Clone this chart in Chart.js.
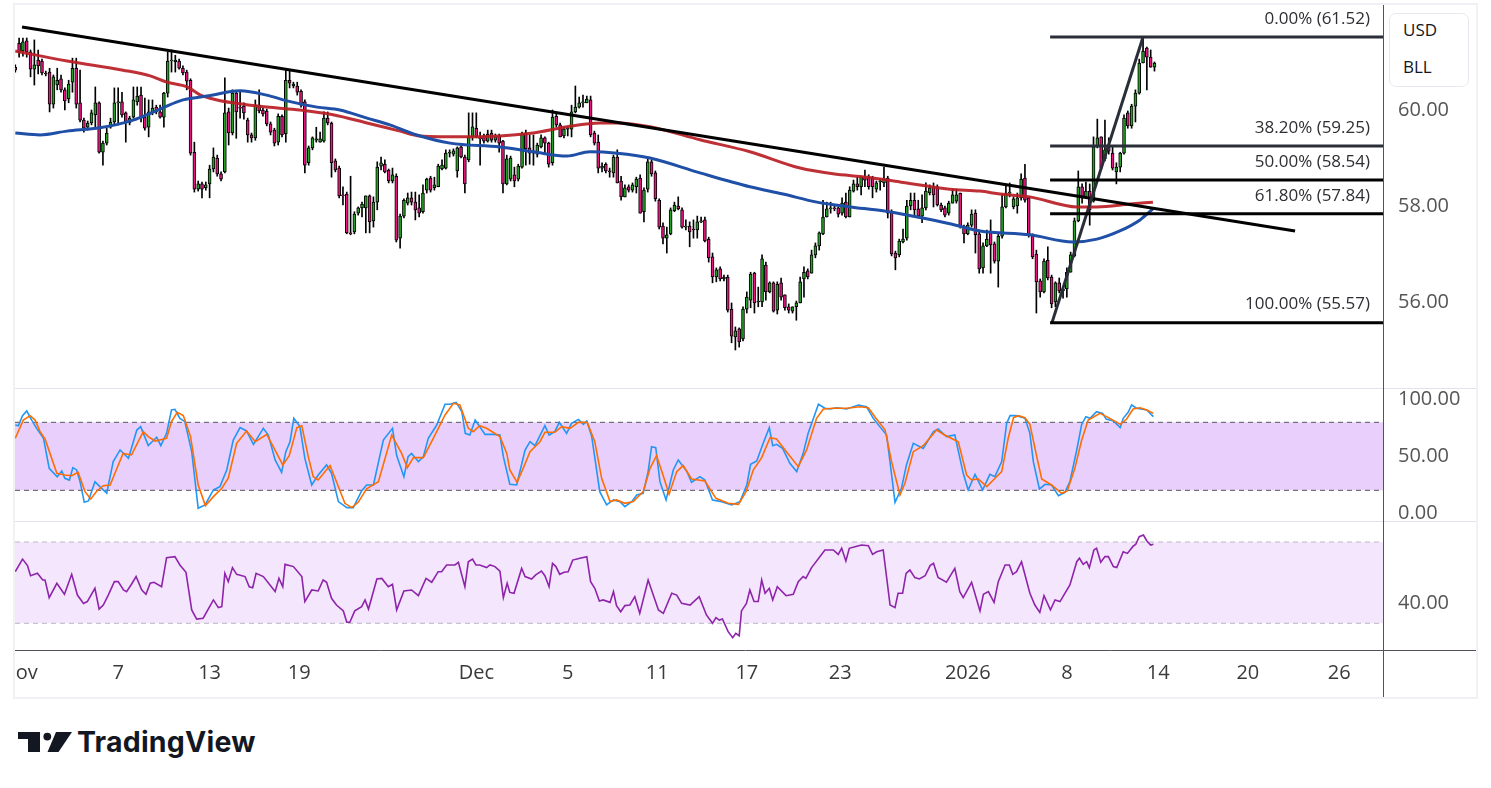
<!DOCTYPE html>
<html><head><meta charset="utf-8">
<script src="https://cdn.jsdelivr.net/npm/chart.js@4"></script>
<style>
html,body{margin:0;padding:0;background:#fff;width:1491px;height:788px;overflow:hidden;font-family:'Open Sans',sans-serif;}
#frame{position:absolute;left:13px;top:3px;width:1461px;height:692px;border:2px solid #f0f1f4;}
.pane{position:absolute;left:15px;width:1461px;}
#p1{top:5px;height:383px;}
#p2{top:388px;height:133px;}
#p3{top:521px;height:176px;}
#cur{position:absolute;left:1389px;top:13px;width:78px;height:72px;border:1px solid #e6e8ee;border-radius:7px;background:#fff;color:#131722;font-size:17px;}
#cur div{position:absolute;left:13px;line-height:20px;}
#logo{position:absolute;left:18px;top:731px;}
#logotext{position:absolute;left:77px;top:728px;font-family:Inter,sans-serif;font-weight:700;font-size:28.5px;line-height:28px;color:#131722;letter-spacing:0.2px;}
</style></head>
<body>
<div id="frame"></div>
<div class="pane" id="p1"><canvas id="c1"></canvas></div>
<div class="pane" id="p2"><canvas id="c2"></canvas></div>
<div class="pane" id="p3"><canvas id="c3"></canvas></div>
<div id="cur"><div style="top:6px">USD</div><div style="top:43px">BLL</div></div>
<svg id="logo" width="56" height="22" viewBox="0 0 56 22"><path d="M0 1h22v20h-12v-13h-10z" fill="#131722"/><circle cx="29.3" cy="5.6" r="3.9" fill="#131722"/><path d="M38 1h16l-13.5 20h-11z" fill="#131722"/></svg>
<div id="logotext">TradingView</div>
<script>
// ---------- DATA ----------
const candleOpen = [60.89,61.39,61.23,61.44,61.21,60.85,61.04,61.02,60.77,60.79,
60.12,60.52,60.65,60.42,60.23,60.58,60.87,60.15,59.79,59.64,
59.73,59.90,60.15,59.12,59.31,59.64,59.75,60.15,60.17,59.94,
59.73,59.85,60.17,60.31,59.85,59.64,59.96,60.06,59.96,59.85,
60.35,61.02,61.00,61.02,60.87,60.79,60.62,59.12,58.35,58.46,
58.38,58.46,58.77,59.00,58.67,58.71,59.96,59.52,60.35,60.06,
60.08,59.79,59.48,59.42,60.10,60.00,59.98,59.71,59.58,59.33,
59.87,59.50,60.62,60.50,60.50,60.39,
60.17,58.90,59.21,59.37,59.33,59.35,59.83,59.73,58.94,58.79,
58.23,58.25,57.44,57.46,57.85,57.96,57.96,58.21,57.69,58.08,
58.83,58.87,58.75,58.52,58.62,57.33,57.79,58.06,58.17,58.08,
57.96,57.88,58.33,58.58,58.38,58.40,58.77,58.79,59.10,59.08,
58.73,59.23,59.02,58.96,59.44,59.62,59.42,59.46,59.35,59.52,
59.37,59.46,59.35,58.46,58.56,58.65,58.56,58.81,59.52,59.21,
59.12,59.08,59.23,59.42,59.31,58.90,59.87,59.69,59.46,59.60,
59.60,59.96,60.06,60.15,
60.15,60.21,59.52,59.33,58.79,58.87,58.73,58.69,59.02,58.52,
58.19,58.40,58.33,58.40,58.58,57.88,58.35,58.92,58.69,58.12,
57.58,57.33,57.42,57.90,58.00,57.92,57.56,57.58,57.52,57.50,
57.67,57.71,57.31,56.94,56.52,56.69,56.48,56.52,55.85,55.27,
55.44,55.23,55.85,56.04,56.60,56.00,56.00,56.77,56.21,56.40,
55.83,56.40,56.15,55.90,55.81,55.90,55.98,56.48,56.65,56.60,
56.98,57.17,57.42,57.77,57.94,57.96,57.96,57.85,58.08,57.77,
58.31,58.46,58.40,58.60,
58.60,58.58,58.35,58.50,58.48,58.58,57.88,57.02,56.98,57.25,
57.33,58.00,58.12,57.94,57.79,57.96,58.27,58.40,58.40,58.02,
57.96,57.85,58.06,58.10,58.27,57.58,57.42,57.60,57.85,57.42,
56.71,57.17,57.46,57.21,56.85,57.37,57.98,58.27,57.98,58.00,
58.17,58.58,58.17,57.38,57.00,56.44,56.21,56.87,56.52,56.00,
56.40,56.23,56.27,56.62,56.96,57.69,58.40,58.19,58.31,58.10,
59.23,59.44,58.98,59.27,59.10,58.71,58.81,59.10,59.94,59.67,
60.08,60.35,60.98,61.29,61.10,60.89];
const candleHigh = [60.94,61.50,61.50,61.50,61.25,61.46,61.25,61.06,60.81,60.87,
60.73,60.87,60.73,60.46,60.62,61.08,61.08,60.83,59.83,59.77,
60.00,60.48,60.17,59.35,59.62,59.83,60.46,60.46,60.37,59.96,
59.87,60.48,60.48,60.48,60.25,60.21,60.21,60.10,60.10,60.37,
61.21,61.25,61.14,61.06,60.92,60.83,60.65,59.33,58.52,58.50,
58.50,58.85,59.21,59.06,58.71,60.67,60.04,60.42,60.37,60.37,
60.15,59.83,59.52,60.21,60.42,60.04,60.02,59.75,59.62,59.92,
59.90,60.83,60.83,60.58,60.58,60.42,
60.21,59.25,59.44,59.64,59.54,59.96,59.96,59.75,58.98,58.83,
58.40,58.29,58.62,57.88,57.98,58.08,58.21,58.23,58.19,58.92,
59.02,58.96,58.77,58.79,58.67,57.83,58.15,58.27,58.29,58.29,
58.23,58.44,58.58,58.62,58.60,58.87,58.96,59.17,59.17,59.19,
59.23,59.25,59.06,59.94,59.94,59.94,59.54,59.50,59.58,59.58,
59.50,59.50,59.37,59.06,59.04,58.81,58.87,59.54,59.58,59.48,
59.48,59.31,59.48,59.44,59.33,60.00,59.92,59.73,59.65,59.65,
60.10,60.50,60.27,60.31,
60.29,60.29,59.56,59.48,58.90,58.90,58.79,59.06,59.17,58.62,
58.44,58.44,58.48,58.60,58.65,58.38,59.02,58.96,58.73,58.15,
57.65,57.56,57.96,58.08,58.19,57.96,57.71,57.67,57.71,57.79,
57.77,57.77,57.35,57.02,56.71,56.73,56.56,56.56,55.98,55.48,
55.46,55.90,56.21,56.62,56.62,56.31,56.98,56.83,56.42,56.42,
56.42,56.50,56.15,55.96,55.90,56.02,56.52,56.73,56.69,57.08,
57.23,57.46,58.12,58.08,58.08,58.00,57.98,58.17,58.27,58.40,
58.54,58.60,58.60,58.75,
58.65,58.62,58.52,58.56,58.81,58.62,57.92,57.06,57.31,57.52,
58.12,58.27,58.27,58.12,58.23,58.48,58.44,58.48,58.44,58.06,
58.00,58.10,58.35,58.35,58.27,57.60,57.65,57.92,57.92,57.50,
57.23,57.50,57.71,57.25,57.42,58.23,58.46,58.48,58.19,58.27,
58.67,58.87,58.19,57.42,57.08,56.48,56.90,57.15,56.56,56.42,
56.50,56.31,56.71,57.04,57.75,58.73,58.46,58.50,58.46,59.44,
59.81,59.44,59.79,59.42,59.23,58.90,59.12,59.90,59.98,60.12,
60.42,61.06,61.52,61.31,61.25,61.00];
const candleLow = [60.79,61.10,61.12,61.10,60.69,60.52,60.75,60.73,60.71,59.96,
60.04,60.42,60.37,60.00,60.15,60.37,60.04,59.75,59.54,59.58,
59.69,59.62,59.10,58.85,59.27,59.62,59.69,59.69,59.85,59.33,
59.69,59.83,60.10,59.75,59.58,59.44,59.90,59.92,59.83,59.64,
60.27,60.79,60.79,60.85,60.73,60.42,59.06,58.29,58.31,58.17,
58.33,58.17,58.71,58.62,58.52,58.69,59.27,59.48,59.41,59.83,
59.81,59.33,59.33,59.37,59.94,59.87,59.67,59.48,59.25,59.27,
59.44,59.33,60.46,60.46,60.31,60.06,
58.69,58.85,59.17,59.33,59.33,59.33,59.69,58.60,58.71,58.17,
58.02,57.42,57.40,57.42,57.81,57.77,57.44,57.44,57.56,57.92,
58.75,58.69,58.48,58.48,57.25,57.12,57.75,58.02,58.02,57.71,
57.77,57.85,58.27,58.29,58.33,58.40,58.75,58.77,59.02,59.04,
58.60,59.00,58.27,58.92,59.37,59.42,58.85,59.31,59.33,59.33,
59.33,59.12,58.27,58.44,58.52,58.40,58.52,58.79,58.85,58.87,
58.85,59.02,59.21,59.10,58.81,58.85,59.65,59.44,59.42,59.46,
59.44,59.94,60.04,60.06,
60.15,59.44,59.27,58.69,58.71,58.69,58.60,58.60,58.48,58.12,
58.19,58.29,58.29,58.27,57.85,57.67,58.29,58.62,58.10,57.52,
57.21,57.02,57.40,57.88,57.92,57.54,57.50,57.15,57.33,57.33,
57.65,57.25,56.83,56.40,56.42,56.44,56.44,55.79,55.15,55.00,
55.06,55.19,55.77,55.88,55.77,55.90,55.90,56.04,56.19,55.79,
55.75,56.04,55.83,55.77,55.77,55.62,55.98,56.10,56.48,56.60,
56.92,57.08,57.40,57.77,57.85,57.90,57.77,57.81,57.75,57.77,
58.29,58.33,58.23,58.40,
58.35,58.17,58.29,58.33,58.40,57.75,56.96,56.67,56.94,57.23,
57.29,57.92,57.77,57.77,57.65,57.92,58.23,57.98,58.00,57.88,
57.77,57.81,58.06,58.06,57.54,57.23,57.40,57.56,57.02,56.60,
56.60,57.15,56.60,56.81,56.31,57.33,57.96,58.19,57.94,57.85,
58.12,58.08,57.35,56.90,55.77,56.10,56.19,56.46,55.88,55.90,
56.19,56.08,56.10,56.62,56.94,57.67,58.06,58.17,57.60,58.08,
59.21,58.75,58.94,59.08,58.75,58.46,58.71,59.08,59.62,59.62,
59.75,60.33,60.98,60.42,60.89,60.81];
const candleClose = [60.83,61.21,61.42,61.21,60.85,60.94,60.92,60.77,60.75,60.12,
60.69,60.62,60.42,60.19,60.54,60.87,60.12,59.79,59.62,59.73,
59.94,60.15,59.12,59.31,59.52,59.75,60.15,60.17,59.90,59.75,
59.83,60.21,60.29,59.83,59.62,59.96,60.04,59.96,59.85,60.35,
61.02,61.04,61.04,60.87,60.77,60.60,59.10,58.35,58.46,58.35,
58.44,58.77,59.02,58.67,58.56,59.94,59.52,60.35,59.96,60.04,
59.94,59.48,59.42,60.10,59.98,59.92,59.71,59.54,59.31,59.87,
59.48,60.62,60.56,60.54,60.37,60.10,
58.85,59.21,59.42,59.40,59.40,59.83,59.73,58.90,58.75,58.21,
58.21,57.44,57.42,57.83,57.96,58.04,58.21,57.67,58.08,58.81,
58.90,58.71,58.52,58.65,57.29,57.79,58.12,58.17,58.08,57.92,
57.85,58.27,58.56,58.33,58.44,58.83,58.85,59.10,59.12,59.15,
59.21,59.02,58.46,59.44,59.65,59.44,59.40,59.35,59.50,59.37,
59.46,59.31,58.46,58.98,59.00,58.52,58.83,59.50,59.19,59.10,
59.10,59.27,59.42,59.31,58.87,59.85,59.69,59.44,59.60,59.62,
59.96,60.06,60.15,60.17,
60.23,59.48,59.31,58.79,58.83,58.73,58.71,59.02,58.48,58.19,
58.38,58.33,58.44,58.56,57.85,58.33,58.92,58.67,58.15,57.56,
57.33,57.40,57.92,58.02,57.94,57.56,57.58,57.46,57.50,57.67,
57.69,57.27,56.92,56.52,56.67,56.48,56.52,55.83,55.29,55.40,
55.17,55.85,56.10,56.58,55.98,56.02,56.90,56.21,56.40,55.81,
56.37,56.10,55.88,55.83,55.90,55.98,56.42,56.62,56.52,56.98,
57.17,57.44,57.77,57.94,57.96,57.94,57.83,58.06,57.77,58.33,
58.46,58.40,58.60,58.54,
58.40,58.40,58.48,58.52,58.56,57.85,57.00,56.92,57.27,57.31,
58.00,58.12,57.92,57.79,57.96,58.31,58.38,58.23,58.02,57.92,
57.81,58.06,58.23,58.23,57.58,57.42,57.60,57.83,57.40,56.69,
57.17,57.31,57.19,56.85,57.37,57.98,58.27,58.29,58.15,58.17,
58.56,58.12,57.38,56.94,56.42,56.21,56.85,56.50,55.96,56.40,
56.23,56.27,56.62,56.98,57.69,58.40,58.17,58.31,57.92,59.23,
59.42,58.79,59.17,59.14,58.79,58.81,59.10,59.83,59.67,60.08,
60.35,60.98,61.23,61.10,60.89,60.98];

const maRed = [[0,61.23],[13.6,61.02],[28.3,60.83],[35.4,60.71],[39.8,60.58],[45.1,60.48],[48.6,60.31],[53,60.21],[57.1,60.15],[66,60.06],[74.7,60.00],[83.4,59.90],[92.3,59.73],[101,59.56],[106.2,59.46],[118.6,59.44],[127.2,59.46],[135.9,59.52],[144.8,59.65],[153.5,59.73],[158,59.73],[166.6,59.65],[179.7,59.38],[192.8,59.13],[206,58.79],[214.6,58.67],[223.5,58.60],[232.2,58.50],[245.3,58.35],[253.2,58.31],[258.5,58.25],[266.3,58.19],[278.7,57.98],[283.9,57.98],[292.6,58.04],[298.6,58.08]];
const maBlue = [[0,59.52],[6.5,59.48],[13.6,59.56],[22.2,59.63],[30.9,59.79],[38,60.02],[44,60.21],[50.3,60.29],[59,60.40],[66,60.31],[71.3,60.19],[79.2,60.06],[85.2,60.00],[92.3,59.83],[98.3,59.69],[105.4,59.48],[114.1,59.31],[127.2,59.23],[135.9,59.13],[144.8,59.04],[150.8,59.13],[158,59.10],[166.6,59.00],[179.7,58.69],[192.8,58.40],[201.5,58.25],[210.4,58.08],[219.1,57.98],[227.7,57.90],[236.7,57.77],[245.3,57.63],[253.2,57.48],[266.3,57.40],[277.6,57.25],[283.9,57.31],[289.9,57.48],[295.2,57.71],[298.6,57.94]];
const trendLine = [[1.76,61.73],[335.9,57.48]];
const fibLevels = [61.52,59.25,58.54,57.84,55.57];
const fibNames = ['0.00%','38.20%','50.00%','61.80%','100.00%'];
const fibStartIdx = 271.6;
const fibSwing = [[272.1,55.57],[296,61.52]];

const stochK = [[0,77.6],[0.8,77],[1.9,85.9],[3,90],[4.3,82],[5.6,74.7],[7.4,65.9],[8.9,39.4],[11,32],[12.2,37],[13,30.6],[14.2,29],[15.1,40],[16.1,38],[17,27.6],[18.1,9.4],[19.2,10.6],[20.9,27.6],[22.2,23.2],[24,17.4],[25.7,45.3],[27.5,55.6],[29.7,48.2],[31.9,73.2],[32.9,76.2],[34.9,59.4],[37.1,66.8],[38.2,59.4],[39.7,70.3],[41,90.9],[41.9,91.5],[43.2,83.5],[44.5,80.6],[46.3,54.1],[48,4.1],[49.8,7.1],[52,20.3],[53.7,23.2],[55.5,37.9],[57.2,64.4],[59,75.3],[60.7,72.4],[62.5,60.6],[65.1,74.7],[66.4,68.8],[68.2,46.8],[69.9,35.9],[71,54.1],[72.1,62.9],[73.1,83.5],[74.7,76.2],[76,48.2],[77.8,24.7],[79.5,33.5],[81.7,42.4],[83,35],[84.8,10],[87,4.7],[88.7,4.7],[90.9,19.4],[92.2,24.7],[94,24.7],[96.6,64.4],[99,74.7],[100.1,50.6],[102,32],[103.1,49.7],[104,52.6],[105.8,45.3],[107.1,49.7],[108.4,65.9],[110.6,77.6],[112.8,95.9],[114.1,95.9],[115.7,97.6],[117.2,89.4],[118.1,70.3],[119.3,68.8],[120.7,82],[123.3,69.4],[125.5,69.4],[127.2,68.8],[128.1,49.7],[129.8,25.3],[131.6,24.7],[133.8,55.6],[135.1,62.9],[136.4,59.4],[139,77],[140.1,68.8],[141.6,71.8],[142.8,80],[144.7,70.3],[146,79.1],[147.8,82.6],[149.1,78.2],[150,81.2],[151.3,67.4],[153.4,18.8],[155.2,7.1],[157,11.5],[158.7,10],[160,5.6],[161.8,10],[163.1,15.9],[164.8,17.4],[166.1,36.5],[167,58.5],[168.1,57.6],[169.2,27.6],[170.8,11.5],[172.7,37.9],[174,46.8],[176.2,37],[177.5,27.1],[179.7,32],[181,29.1],[183,11.5],[185.4,10],[188,7.1],[190.2,10],[192,24.7],[193,42.9],[194.6,45.9],[196.3,61.5],[197.9,75.3],[198.8,59.4],[199.8,60.6],[201.4,57],[203.3,43.8],[205.1,36.5],[206.8,52.6],[208.1,70.3],[210.8,95.9],[212.5,92.4],[213.8,91.8],[215.6,92.9],[218.2,91.8],[221.3,95.3],[223.4,93.8],[225.2,83.5],[226.9,76.2],[228.7,68.8],[230.9,9.4],[232.6,21.8],[233.9,42.4],[235.7,61.5],[238.3,57],[241,71.8],[242.2,74.1],[244.4,67.4],[246.6,68.8],[248.8,35],[250.1,20.3],[251.9,34.1],[253.9,20.3],[255.8,34.1],[257.1,32],[258.9,45.3],[260.2,79.1],[261.1,85.9],[262.8,85.9],[265,83.5],[266.3,70.3],[267.2,45.3],[268.8,21.2],[270.3,25.3],[272,24.7],[273.8,15.3],[275.5,18.2],[276.8,27.6],[278.6,55.6],[279.9,78.2],[281,85],[282.1,83.5],[283.8,89.4],[285.4,87.9],[286.3,82.9],[288.2,81.2],[290,75.3],[290.8,83.5],[292.1,88.8],[293,95.3],[294.3,92.4],[297,90.9],[298.7,85]];
const stochD = [[0,65.9],[2.1,82],[3.9,85.9],[5.2,82],[6.5,71.8],[7.8,65.3],[10.9,35],[13,33.5],[14.8,32.9],[16.5,35.9],[18.3,18.8],[19.8,12.4],[21.4,19.4],[23.1,24.1],[24.9,24.7],[26.6,38.8],[28.3,52.6],[30.5,51.2],[33.6,71.8],[34.9,67.4],[36.7,63.5],[39.7,65.9],[41,80.6],[42.5,88.8],[44.1,85.9],[46,67.4],[48,24.7],[49.9,6.5],[52,14.4],[54.2,21.8],[55.9,30.6],[58.1,61.5],[60.7,72.4],[63,62.9],[66,69.4],[67.7,58.5],[70.2,42.4],[71.9,50.6],[73.9,75.3],[75.2,77],[76.9,49.7],[78.2,32],[79.5,29.1],[82.6,41.8],[84.3,27.6],[86.5,8.5],[88.3,4.7],[90,9.4],[92.2,21.2],[95.3,27.6],[98.8,68.8],[101.4,52.6],[102.9,40],[104.5,48.8],[107.1,48.8],[109.7,65.9],[112.8,86.5],[115,96.8],[116.7,95.3],[118.9,74.7],[120.2,71.8],[121.9,77],[123.7,74.7],[127.2,67.4],[129,52.6],[129.8,37.9],[131.7,27.1],[133.3,39.4],[135.1,54.1],[137.7,62.9],[139,71.2],[141.6,71.2],[143.4,76.2],[145.6,74.7],[147.8,80],[150.1,80],[152.1,62.9],[153.9,30.6],[156.1,10],[157.8,11.5],[160,8.5],[162.2,10],[164.8,18.8],[166.6,39.4],[168.3,50.6],[170,33.5],[171.6,16.5],[173.6,36.5],[175.3,41.8],[177.5,30],[181,28.2],[183.9,12.9],[187.1,8.5],[189.8,7.6],[191.8,18.8],[193.7,37.9],[195.9,48.8],[198.1,66.5],[199.8,65.3],[202.4,54.1],[205.5,40.9],[207.7,55.6],[210.3,83.5],[212.1,91.8],[214.7,92.4],[218.2,92.4],[221.7,93.8],[223.9,92.9],[225.6,85],[228.3,73.2],[230,45.3],[232.2,15.9],[233.5,26.2],[235.7,54.1],[238.3,59.4],[241.8,73.2],[243.9,68.8],[247.5,62.9],[249.7,33.5],[251,29.1],[252.7,30],[255,23.2],[256.7,29.1],[258.9,36.5],[260.6,65.9],[262,84.1],[263.3,85.9],[265,84.1],[266.3,78.2],[268.1,49.7],[269.4,30],[272,24.7],[274.6,17.4],[276.1,19.4],[278.1,39.4],[279.9,64.4],[281.6,82],[284.7,87.9],[287.3,83.5],[290,78.2],[291.7,82.9],[293.4,91.8],[295.2,92.9],[297,90.9],[298.7,87.9]];
const rsiLine = [[0,55.4],[1.9,61.6],[3.2,58.4],[4,53.4],[5.8,54.6],[7.2,51.3],[7.8,51.3],[8.9,42.6],[10.9,49.7],[12.9,44.3],[14.8,54.1],[16.3,43.9],[17.9,39.8],[18.9,40.7],[20.9,47.2],[22,37],[23.1,39],[24.4,43.9],[26,50.5],[27,50.5],[28.4,46.4],[29.2,45.6],[30.5,49.2],[31.7,53],[33.2,46.4],[34.3,44.3],[35.4,49.7],[36.4,50.2],[38.4,48],[39.7,62.3],[41.9,62.8],[43.2,58.7],[44.8,55.1],[46.3,36.6],[47.6,32.1],[49.3,32.5],[52,41.5],[53.3,37.7],[54.2,38.2],[55,54.6],[55.9,50.5],[57,57.4],[58.1,54.1],[60.3,53],[61.4,48],[62.3,47.5],[63.2,54.6],[65.1,53],[68.2,45.6],[69.2,52.1],[70.2,48],[70.8,59],[73,57.9],[75.2,53],[76,40.7],[77.8,46.4],[79.5,45.9],[80.8,51.3],[81.7,50.2],[83,42.3],[84.3,39],[86.1,36.1],[87,30.5],[87.8,30.5],[89.1,36.1],[90.9,38.2],[91.8,41.5],[92.7,37],[93.5,42.3],[94.9,51.8],[96.2,52.1],[97.9,48],[99,49.2],[100.1,36.6],[102,45.9],[104,46.4],[105.8,43.6],[107.8,52.1],[109.3,50.2],[111,55.4],[111.9,55.4],[113.2,58.7],[115.4,58.7],[116.3,60],[118,48],[118.9,60.3],[120,61.6],[120.9,58.7],[121.9,58.7],[123.7,57.4],[124.6,58.7],[125.9,57.9],[127.2,55.7],[128.1,42.6],[129.1,49.7],[129.8,45.2],[130.9,44.8],[132.9,57],[133.8,53],[135.5,51.8],[136.6,53.8],[138.1,55.7],[139,53.4],[140.1,48],[141,59.5],[141.9,57.9],[142.9,54.1],[144,55.1],[145.1,55.4],[146.3,61.1],[148.2,62],[150,62.8],[151,50.5],[152.1,47.2],[153.3,41],[154.3,41.5],[156.1,40.3],[157,45.6],[157.8,38.7],[158.9,35.7],[160,38.7],[161.3,39],[162.6,43.1],[163.9,34.9],[166.1,51.3],[168.8,36.6],[170.1,34.9],[172.3,44.8],[173.6,43.9],[174.9,39.8],[177.1,39],[179.5,43.1],[181.4,34.1],[183,30],[183.9,32.8],[184.8,31.6],[185.6,32.1],[187.1,25.9],[188.3,22.9],[189.1,25.1],[190,23.9],[190.6,36.1],[191.9,39.8],[192.8,46.4],[193.9,40.7],[195,40.7],[195.9,51.3],[196.8,44.8],[197.9,47.2],[198.8,41.5],[200,48],[202.3,43.6],[204.2,44.3],[205.5,50.5],[206.8,53],[207.5,52.1],[209,57.4],[212.5,66.1],[214.7,66.1],[216,63.9],[216.9,66.9],[218,60.7],[218.9,66.9],[220.4,67.7],[222.1,68.5],[223.9,68.2],[225,63.9],[226.1,65.2],[227.8,66.1],[229.6,39],[230.9,37.7],[231.7,44.8],[232.9,44.8],[233.8,54.6],[234.8,56.2],[236.1,52.5],[237.3,51.8],[238.8,53.4],[240.1,58.4],[241,59.5],[242.2,52.5],[244.4,50.2],[246.6,57],[247.9,45.6],[248.8,42.6],[251,50.2],[253.2,36.1],[254.1,44.3],[255.4,45.6],[256.9,40.3],[258,50.5],[259.8,58.7],[260.9,58.7],[261.8,54.1],[262.8,55.4],[264.1,60.3],[266.3,44.8],[267.6,39],[268.9,35.4],[270,43.6],[271.7,36.6],[272.9,41.5],[274.2,40.7],[276.8,48.9],[278.6,60.3],[279.3,62],[280.3,59],[281.2,60.3],[281.9,57.4],[283.1,66.1],[283.8,66.9],[284.9,60],[286,62.8],[286.9,62.8],[288.2,57.9],[289.1,57.4],[290.8,65.2],[291.9,64.4],[293.3,67.7],[294.1,68.9],[295,72.6],[296.1,73.4],[297,70.5],[298,68.5],[298.7,68.9]];
const stochBand = [80,20];
const rsiBand = [70,30];
const priceTicks = [56,58,60];
const stochTicks = [0,50,100];
const rsiTicks = [40];
const xTickPos = [1,27,51,74.5,121,145,168.5,192,216.5,250,276,300,323.5,347.5];
const xTickLabels = ['Nov','7','13','19','Dec','5','11','17','23','2026','8','14','20','26'];

// ---------- LAYOUT / STYLE ----------
const X_MIN = -0.079, X_MAX = 358.98;
const FONT = 'Open Sans';
const GREEN = '#24a124', PINK = '#e8137f';
Chart.defaults.font.family = FONT;

const pts = arr => arr.map(p => ({x:p[0], y:p[1]}));
const hline = v => [{x:X_MIN,y:v},{x:X_MAX,y:v}];

const paneDecor = {
  id:'paneDecor',
  afterDraw(chart, args, opts){
    const {ctx, chartArea:a, width, height} = chart;
    ctx.save(); ctx.lineWidth = 1;
    if (opts.topLine){ ctx.strokeStyle='#e0e3eb'; ctx.beginPath(); ctx.moveTo(0,0.5); ctx.lineTo(width,0.5); ctx.stroke(); }
    ctx.strokeStyle = '#50535e';
    const xr = Math.round(a.right)+0.5;
    ctx.beginPath(); ctx.moveTo(xr,0); ctx.lineTo(xr,height); ctx.stroke();
    if (opts.bottomAxis){ const yb=Math.round(a.bottom)+0.5; ctx.beginPath(); ctx.moveTo(0,yb); ctx.lineTo(width,yb); ctx.stroke(); }
    ctx.restore();
  }
};
const fibText = {
  id:'fibText',
  afterDatasetsDraw(chart){
    const {ctx, scales:{x,y}} = chart;
    ctx.save();
    ctx.font = '17px "'+FONT+'"'; ctx.textAlign='right'; ctx.textBaseline='middle'; ctx.fillStyle='#2e2e33';
    fibLevels.forEach((lv,k)=>ctx.fillText(fibNames[k]+' ('+lv.toFixed(2)+')', x.right-13, y.getPixelForValue(lv)-18));
    ctx.restore();
  }
};

function xScale(show){
  return {type:'linear', min:X_MIN, max:X_MAX, offset:false, display:show,
    afterBuildTicks:s=>{ s.ticks = xTickPos.map(v=>({value:v})); },
    afterFit:s=>{ if(show){ s.height=47; } s.paddingLeft=0; s.paddingRight=0; },
    grid:{display:false, drawTicks:false, offset:false}, border:{display:false},
    ticks:{autoSkip:false, maxRotation:0, minRotation:0, padding:11, color:'#3a3a3a', font:{family:FONT,size:20},
      callback:(v,i)=>xTickLabels[i]}};
}
function yScale(min,max,ticks){
  return {position:'right', min, max,
    afterBuildTicks:s=>{ s.ticks = ticks.map(v=>({value:v})); },
    afterFit:s=>{ s.width=93; s.paddingTop=0; s.paddingBottom=0; },
    grid:{display:false, drawTicks:false}, border:{display:false},
    ticks:{padding:15, color:'#555', font:{family:FONT,size:20}, callback:v=>Number(v).toFixed(2)}};
}
const common = {responsive:true, maintainAspectRatio:false, animation:false, events:[],
  layout:{padding:0}, plugins:{legend:{display:false}, tooltip:{enabled:false}}};

// ---------- PRICE PANE ----------
const idx = candleOpen.map((_,i)=>i);
const bodyColors = idx.map(i => candleClose[i] >= candleOpen[i] ? GREEN : PINK);
const fibSets = fibLevels.map((lv,k)=>({type:'line', data:[{x:fibStartIdx,y:lv},{x:X_MAX,y:lv}],
  borderColor: k<2 ? '#2a2e39' : '#000', borderWidth:3, pointRadius:0, order:1}));
new Chart(document.getElementById('c1'), {
  type:'bar',
  data:{datasets:[
    {type:'bar', data:idx.map(i=>({x:i,y:[candleLow[i],candleHigh[i]]})), backgroundColor:'#000', barThickness:1, grouped:false, order:9},
    {type:'bar', data:idx.map(i=>({x:i,y:[candleOpen[i],candleClose[i]]})), backgroundColor:bodyColors, borderColor:'#000', borderWidth:1, borderSkipped:false, barThickness:3, grouped:false, order:8},
    {type:'line', data:pts(maRed), borderColor:'rgba(185,30,36,0.92)', borderWidth:3, pointRadius:0, cubicInterpolationMode:'monotone', order:5},
    {type:'line', data:pts(maBlue), borderColor:'#1f4fa6', borderWidth:3, pointRadius:0, cubicInterpolationMode:'monotone', order:4},
    {type:'line', data:pts(trendLine), borderColor:'#000', borderWidth:3, pointRadius:0, order:3},
    ...fibSets,
    {type:'line', data:pts(fibSwing), borderColor:'#2a2e39', borderWidth:3, pointRadius:0, order:2}
  ]},
  options:{...common, scales:{x:xScale(false), y:yScale(54.208,62.1875,priceTicks)},
    plugins:{...common.plugins, paneDecor:{topLine:false, bottomAxis:false}}},
  plugins:[paneDecor, fibText]
});

// ---------- STOCH PANE ----------
new Chart(document.getElementById('c2'), {
  type:'line',
  data:{datasets:[
    {data:hline(stochBand[0]), borderColor:'#55565c', borderDash:[5,4], borderWidth:1, pointRadius:0, fill:'+1', backgroundColor:'#e9d0fc', order:9},
    {data:hline(stochBand[1]), borderColor:'#55565c', borderDash:[5,4], borderWidth:1, pointRadius:0, fill:false, order:8},
    {data:pts(stochK), borderColor:'#2196f3', borderWidth:1.6, pointRadius:0, order:2},
    {data:pts(stochD), borderColor:'#ff6d00', borderWidth:1.6, pointRadius:0, order:1}
  ]},
  options:{...common, scales:{x:xScale(false), y:yScale(-7.1,110.3,stochTicks)},
    plugins:{...common.plugins, paneDecor:{topLine:true, bottomAxis:false}}},
  plugins:[paneDecor]
});

// ---------- RSI PANE ----------
new Chart(document.getElementById('c3'), {
  type:'line',
  data:{datasets:[
    {data:hline(rsiBand[0]), borderColor:'#b9bac2', borderDash:[5,4], borderWidth:1, pointRadius:0, fill:'+1', backgroundColor:'#f4e6fd', order:9},
    {data:hline(rsiBand[1]), borderColor:'#b9bac2', borderDash:[5,4], borderWidth:1, pointRadius:0, fill:false, order:8},
    {data:pts(rsiLine), borderColor:'#8e24aa', borderWidth:1.6, pointRadius:0, order:1}
  ]},
  options:{...common, scales:{x:xScale(true), y:yScale(16.87,80.33,rsiTicks)},
    plugins:{...common.plugins, paneDecor:{topLine:true, bottomAxis:true}}},
  plugins:[paneDecor]
});
</script>
</body></html>
